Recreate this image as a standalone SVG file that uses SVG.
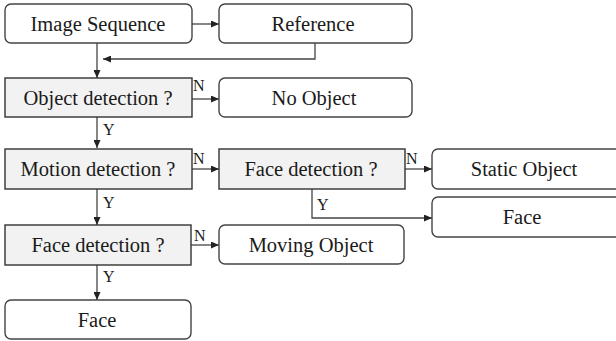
<svg xmlns="http://www.w3.org/2000/svg" width="616" height="341" viewBox="0 0 616 341">
<style>
.box{fill:#ffffff;stroke:#444;stroke-width:1.4}
.dec{fill:#f2f2f2;stroke:#333;stroke-width:1.4}
.t{font-family:"Liberation Serif","Times New Roman",serif;font-size:20.5px;fill:#1a1a1a;text-anchor:middle}
.l{font-family:"Liberation Serif","Times New Roman",serif;font-size:16px;fill:#1a1a1a}
.c{fill:none;stroke:#444;stroke-width:1.3}
</style>
<defs>
<marker id="ah" markerWidth="8" markerHeight="7" refX="8" refY="3.5" orient="auto" markerUnits="userSpaceOnUse">
<path d="M0,0 L8,3.5 L0,7 Z" fill="#222"/>
</marker>
</defs>
<g id="connectors">
<line class="c" x1="192" y1="24" x2="219" y2="24" marker-end="url(#ah)"/>
<polyline class="c" points="315,43 315,59 103,59" marker-end="url(#ah)"/>
<line class="c" x1="97" y1="43" x2="97" y2="78" marker-end="url(#ah)"/>
<line class="c" x1="192" y1="99" x2="219" y2="99" marker-end="url(#ah)"/>
<line class="c" x1="97" y1="117" x2="97" y2="148" marker-end="url(#ah)"/>
<line class="c" x1="192" y1="169" x2="219" y2="169" marker-end="url(#ah)"/>
<line class="c" x1="405" y1="169" x2="432" y2="169" marker-end="url(#ah)"/>
<polyline class="c" points="312,189 312,218 432,218" marker-end="url(#ah)"/>
<line class="c" x1="97" y1="189" x2="97" y2="225" marker-end="url(#ah)"/>
<line class="c" x1="191" y1="245" x2="219" y2="245" marker-end="url(#ah)"/>
<line class="c" x1="97" y1="265" x2="97" y2="300" marker-end="url(#ah)"/>
<text class="l" x="193" y="91">N</text>
<text class="l" x="103" y="135">Y</text>
<text class="l" x="193" y="164">N</text>
<text class="l" x="406" y="164">N</text>
<text class="l" x="103" y="208">Y</text>
<text class="l" x="317" y="210">Y</text>
<text class="l" x="194" y="241">N</text>
<text class="l" x="103" y="282">Y</text>
</g>
<g id="image-sequence"><rect class="box" x="5" y="4" width="187" height="39" rx="6"/><text class="t" x="98" y="31">Image Sequence</text></g>
<g id="reference"><rect class="box" x="219" y="4" width="193" height="39" rx="6"/><text class="t" x="313" y="31">Reference</text></g>
<g id="object-detection"><rect class="dec" x="5" y="78" width="187" height="39"/><text class="t" x="98" y="104.5">Object detection ?</text></g>
<g id="no-object"><rect class="box" x="219" y="78" width="193" height="39" rx="6"/><text class="t" x="314" y="104.5">No Object</text></g>
<g id="motion-detection"><rect class="dec" x="5" y="149" width="187" height="40"/><text class="t" x="98" y="175.5">Motion detection ?</text></g>
<g id="face-detection-2"><rect class="dec" x="219" y="149" width="186" height="40"/><text class="t" x="311" y="175.5">Face detection ?</text></g>
<g id="static-object"><rect class="box" x="432" y="149" width="190" height="40" rx="6"/><text class="t" x="524" y="175.5">Static Object</text></g>
<g id="face-right"><rect class="box" x="432" y="197" width="190" height="40" rx="6"/><text class="t" x="522" y="223.5">Face</text></g>
<g id="face-detection-1"><rect class="dec" x="5" y="225" width="186" height="40"/><text class="t" x="98" y="251.5">Face detection ?</text></g>
<g id="moving-object"><rect class="box" x="219" y="225" width="185" height="39" rx="6"/><text class="t" x="311" y="251.5">Moving Object</text></g>
<g id="face-bottom"><rect class="box" x="5" y="300" width="186" height="39" rx="6"/><text class="t" x="97" y="326.5">Face</text></g>
</svg>
